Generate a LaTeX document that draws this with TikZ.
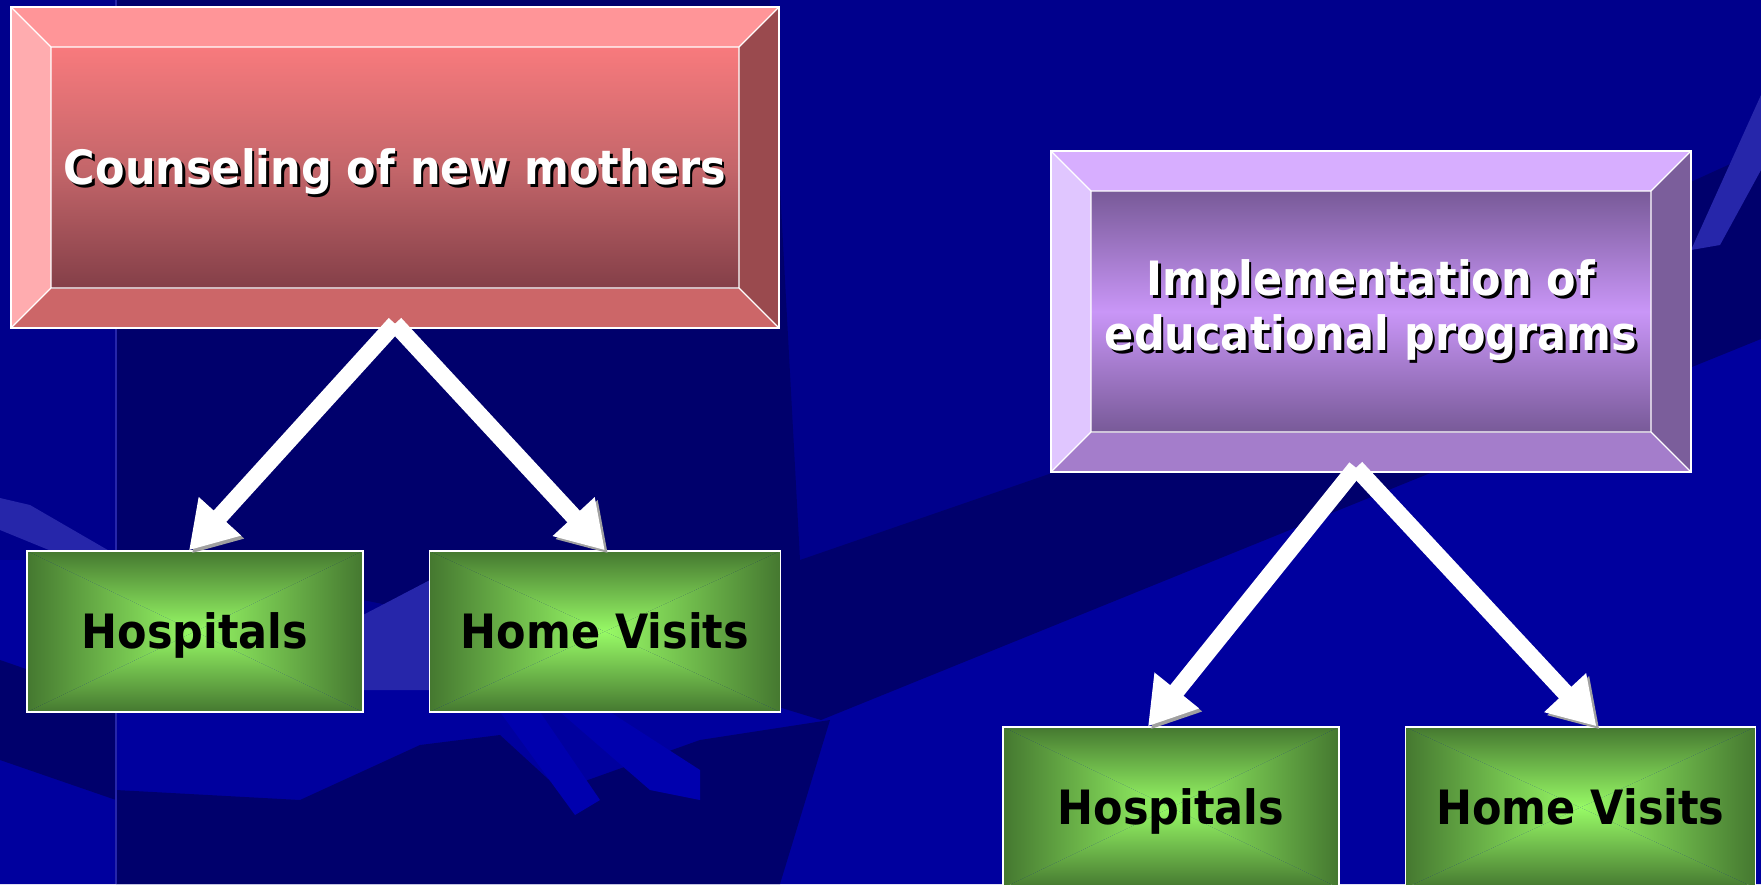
\documentclass[tikz,border=0pt]{standalone}
\usepackage{fontspec}
\setmainfont{DejaVu Sans}
\usetikzlibrary{arrows.meta, positioning}

\definecolor{bgblue}{HTML}{00008C}
\definecolor{bgnavy}{HTML}{00006C}
\definecolor{bgmid}{HTML}{00009E}
\definecolor{bglight}{HTML}{2626AA}
\definecolor{bghand}{HTML}{0000AE}
\definecolor{pinkT}{HTML}{FF9598}
\definecolor{pinkL}{HTML}{FFACAF}
\definecolor{pinkR}{HTML}{9A4A4E}
\definecolor{pinkB}{HTML}{CC6668}
\definecolor{pinkA}{HTML}{F87A7D}
\definecolor{pinkM}{HTML}{C4666A}
\definecolor{pinkZ}{HTML}{843F48}
\definecolor{purpT}{HTML}{D7AEFF}
\definecolor{purpL}{HTML}{E0C6FF}
\definecolor{purpR}{HTML}{7B5E9B}
\definecolor{purpB}{HTML}{A47DCB}
\definecolor{purpA}{HTML}{785A98}
\definecolor{purpM}{HTML}{C996F7}
\definecolor{grnD}{HTML}{457830}
\definecolor{grnL}{HTML}{98FA66}
\definecolor{shadowgray}{HTML}{A0A0A0}

\newcommand{\labelfont}{\fontsize{43pt}{55pt}\selectfont\bfseries}
\newcommand{\tallbox}[1]{\scalebox{1}[1.1]{#1}}
\newcommand{\shtext}[1]{\tallbox{\leavevmode\rlap{\kern2.5pt\raisebox{-2.5pt}{\color{black}#1}}#1}}

\tikzset{
  bevelbox/.style n args={7}{rectangle, inner sep=0pt, minimum height=321pt,
    draw=white, line width=1.4pt, text=white, font=\labelfont, align=center,
    path picture={
      \coordinate (o1) at (path picture bounding box.north west);
      \coordinate (o2) at (path picture bounding box.north east);
      \coordinate (o3) at (path picture bounding box.south east);
      \coordinate (o4) at (path picture bounding box.south west);
      \coordinate (i1) at ([shift={(40,40)}]o1);
      \coordinate (i2) at ([shift={(-40,40)}]o2);
      \coordinate (i3) at ([shift={(-40,-40)}]o3);
      \coordinate (i4) at ([shift={(40,-40)}]o4);
      \fill[#1] (o1) -- (o2) -- (i2) -- (i1) -- cycle;
      \fill[#2] (o1) -- (i1) -- (i4) -- (o4) -- cycle;
      \fill[#3] (o2) -- (o3) -- (i3) -- (i2) -- cycle;
      \fill[#4] (o4) -- (i4) -- (i3) -- (o3) -- cycle;
      \shade[top color=#5, bottom color=#7, middle color=#6] (i1) rectangle (i3);
      \draw[white, line width=1.2pt] (i1) rectangle (i3) (o1) -- (i1) (o2) -- (i2)
        (o3) -- (i3) (o4) -- (i4);
    }},
  greenbox/.style={rectangle, inner sep=0pt, minimum height=161pt,
    text height=34pt, text depth=0pt,
    draw=white, line width=1.4pt, text=black, font=\labelfont,
    path picture={
      \coordinate (g1) at (path picture bounding box.north west);
      \coordinate (g2) at (path picture bounding box.north east);
      \coordinate (g3) at (path picture bounding box.south east);
      \coordinate (g4) at (path picture bounding box.south west);
      \coordinate (gc) at (path picture bounding box.center);
      \shade[top color=grnD, bottom color=grnL] (g1) -- (g2) -- (gc) -- cycle;
      \shade[top color=grnL, bottom color=grnD] (g4) -- (g3) -- (gc) -- cycle;
      \shade[left color=grnD, right color=grnL] (g1) -- (gc) -- (g4) -- cycle;
      \shade[left color=grnL, right color=grnD] (g2) -- (gc) -- (g3) -- cycle;
    }},
  flow/.style={line width=17pt, white, -{Triangle[length=46pt, width=54pt]},
    preaction={draw=shadowgray, -{Triangle[length=46pt, width=54pt]},
      transform canvas={shift={(3,3)}}}}
}

\begin{document}
\begin{tikzpicture}[x=1pt, y=-1pt]
  \useasboundingbox (0,0) rectangle (1761,884);
  \begin{scope}
    \fill[bgblue] (0,0) rectangle (1761,884);
    \fill[bgmid] (0,560) -- (116,560) -- (420,640) -- (830,700) -- (1100,600)
      -- (1761,330) -- (1761,884) -- (0,884) -- cycle;
    \fill[bgnavy] (116,0) -- (770,0) -- (800,560) -- (1052,473) -- (1761,150)
      -- (1761,339) -- (821,720) -- (560,640) -- (363,600) -- (116,560) -- cycle;
    \fill[bgnavy] (116,790) -- (300,800) -- (420,745) -- (500,735) -- (560,790)
      -- (700,740) -- (830,720) -- (780,884) -- (116,884) -- cycle;
    \fill[bgnavy] (0,660) -- (116,700) -- (116,800) -- (0,760) -- cycle;
    \fill[bglight] (0,498) -- (30,505) -- (125,560) -- (110,575) -- (0,530) -- cycle;
    \fill[bglight] (363,615) -- (430,580) -- (470,562) -- (470,690) -- (363,690) -- cycle;
    \fill[bghand] (500,712) -- (540,712) -- (600,800) -- (575,815) -- cycle;
    \fill[bghand] (560,712) -- (610,712) -- (700,770) -- (700,800) -- (650,790) -- cycle;
    \fill[bglight] (1691,250) -- (1761,95) -- (1761,170) -- (1720,245) -- cycle;
    \draw[bglight, line width=2pt] (116,0) -- (116,884);
  \end{scope}

  \node[bevelbox={pinkT}{pinkL}{pinkR}{pinkB}{pinkA}{pinkM}{pinkZ}, minimum width=768pt,
    text height=34pt, text depth=0pt]
    (couns) at (395,167.5) {\shtext{Counseling of new mothers}};
  \node[bevelbox={purpT}{purpL}{purpR}{purpB}{purpA}{purpM}{purpA}, minimum width=640pt]
    (impl) at (1371,311.5) {\shtext{Implementation of}\\\shtext{educational programs}};

  \node[greenbox, minimum width=336pt] (hosp1) at (195,631.5) {\tallbox{Hospitals}};
  \node[greenbox, minimum width=351pt, right=65pt of hosp1] (visit1) {\tallbox{Home Visits}};
  \node[greenbox, minimum width=336pt] (hosp2) at (1171,807.5) {\tallbox{Hospitals}};
  \node[greenbox, minimum width=350pt, right=65pt of hosp2] (visit2) {\tallbox{Home Visits}};

  \draw[flow] ([yshift=5pt]couns.south) -- ([xshift=-6pt]hosp1.north);
  \draw[flow] ([yshift=5pt]couns.south) -- (visit1.north);
  \draw[flow] ([xshift=-15pt, yshift=5pt]impl.south) -- ([xshift=-23pt]hosp2.north);
  \draw[flow] ([xshift=-15pt, yshift=5pt]impl.south) -- ([xshift=16pt]visit2.north);
\end{tikzpicture}
\end{document}
